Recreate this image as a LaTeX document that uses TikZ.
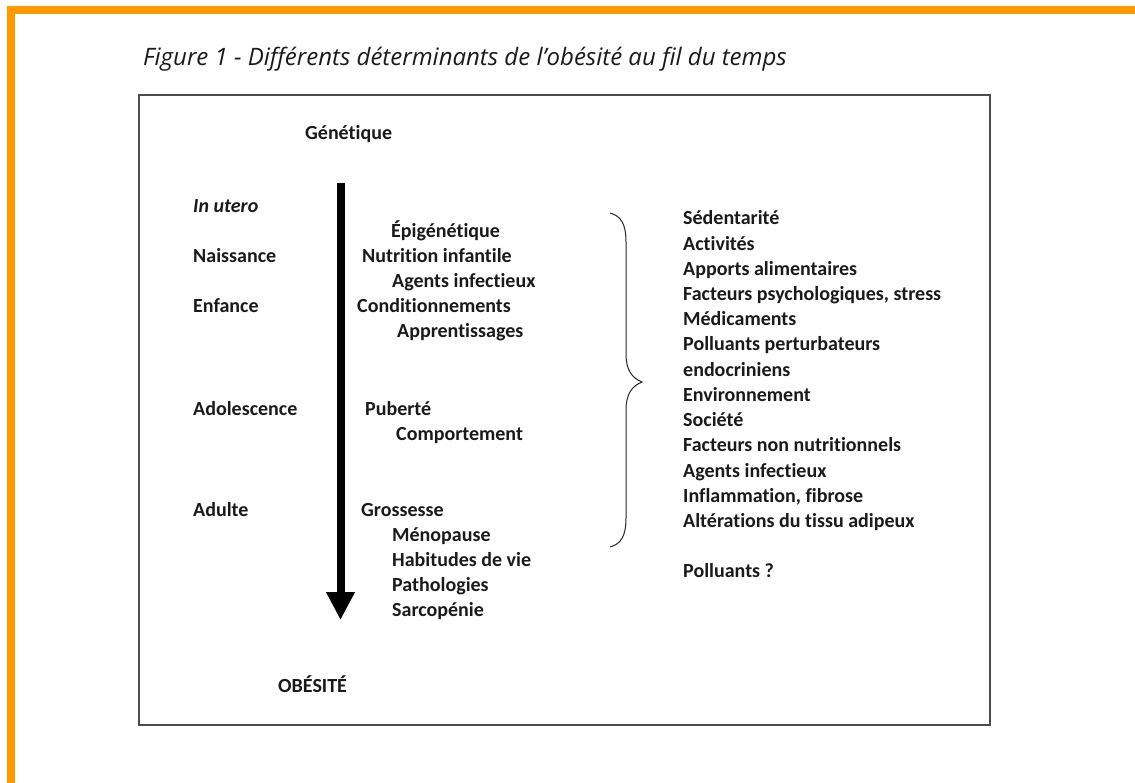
\documentclass[tikz,border=0pt]{standalone}
\usepackage{fontspec}
\setmainfont{Carlito}[Ligatures=CommonOff]
\newfontfamily\titlefont{Open Sans}[Ligatures=CommonOff]
\usetikzlibrary{arrows.meta}
\definecolor{frameorange}{HTML}{FF9900}
\definecolor{txt}{HTML}{1A1A1A}
\tikzset{
  lab/.style={anchor=base west, inner sep=0pt, text=txt, font=\fontsize{20}{24}\selectfont\bfseries},
  ttl/.style={anchor=base west, inner sep=0pt, text=txt, font=\fontsize{24}{28}\selectfont\titlefont\itshape},
  boxline/.style={draw=black!70, line width=1.6pt},
  timearrow/.style={line width=8pt, -{Triangle[width=27pt,length=28pt]}},
  bracestyle/.style={draw=black!85, line width=1pt}
}
\begin{document}
\begin{tikzpicture}[x=1pt,y=-1pt]
\useasboundingbox (0,0) rectangle (1135,783);
\fill[white] (0,0) rectangle (1135,783);
% orange frame
\fill[frameorange] (7,6) rectangle (1135,14);
\fill[frameorange] (7,6) rectangle (15,783);
% title
\node[ttl] (title) at (143,66) {Figure 1 - Différents déterminants de l’obésité au fil du temps};
% box
\draw[boxline] (139,95) rectangle (990,725);
% top / bottom
\node[lab] (gen) at (305,140) {Génétique};
\node[lab] (obe) at (278,692) {OBÉSITÉ};
% arrow
\coordinate (atop) at (340.5,183);
\coordinate (abot) at (340.5,620);
\draw[timearrow] (atop) -- (abot);
% left column
\node[lab] (utero) at (193,213) {\itshape In utero};
\node[lab] (nais) at (193,263) {Naissance};
\node[lab] (enf) at (193,313) {Enfance};
\node[lab] (ado) at (193,415) {Adolescence};
\node[lab] (adu) at (193,516) {Adulte};
% middle column
\node[lab] (epi) at (391,238) {Épigénétique};
\node[lab] (nut) at (362,263) {Nutrition infantile};
\node[lab] (agm) at (392,288) {Agents infectieux};
\node[lab] (cond) at (357,313) {Conditionnements};
\node[lab] (app) at (397,338) {Apprentissages};
\node[lab] (pub) at (365,415) {Puberté};
\node[lab] (comp) at (396,440) {Comportement};
\node[lab] (gro) at (361,516) {Grossesse};
\node[lab] (meno) at (392,541) {Ménopause};
\node[lab] (hab) at (392,566) {Habitudes de vie};
\node[lab] (path) at (392,591) {Pathologies};
\node[lab] (sarc) at (392,616) {Sarcopénie};
% brace
\draw[bracestyle] (610,213) .. controls (621,216) and (626,224) .. (626,242)
  -- (626,354) .. controls (626,370) and (632,378) .. (642,382)
  .. controls (632,386) and (626,394) .. (626,410)
  -- (626,518) .. controls (626,536) and (621,544) .. (610,547);
% right column
\node[lab] (r1) at (683,225) {Sédentarité};
\node[lab] (r2) at (683,250.2) {Activités};
\node[lab] (r3) at (683,275.4) {Apports alimentaires};
\node[lab] (r4) at (683,300.6) {Facteurs psychologiques, stress};
\node[lab] (r5) at (683,325.8) {Médicaments};
\node[lab] (r6) at (683,351) {Polluants perturbateurs};
\node[lab] (r7) at (683,376.2) {endocriniens};
\node[lab] (r8) at (683,401.4) {Environnement};
\node[lab] (r9) at (683,426.6) {Société};
\node[lab] (r10) at (683,451.8) {Facteurs non nutritionnels};
\node[lab] (r11) at (683,477) {Agents infectieux};
\node[lab] (r12) at (683,502.2) {Inflammation, fibrose};
\node[lab] (r13) at (683,527.4) {Altérations du tissu adipeux};
\node[lab] (r14) at (683,577) {Polluants ?};
\end{tikzpicture}
\end{document}
